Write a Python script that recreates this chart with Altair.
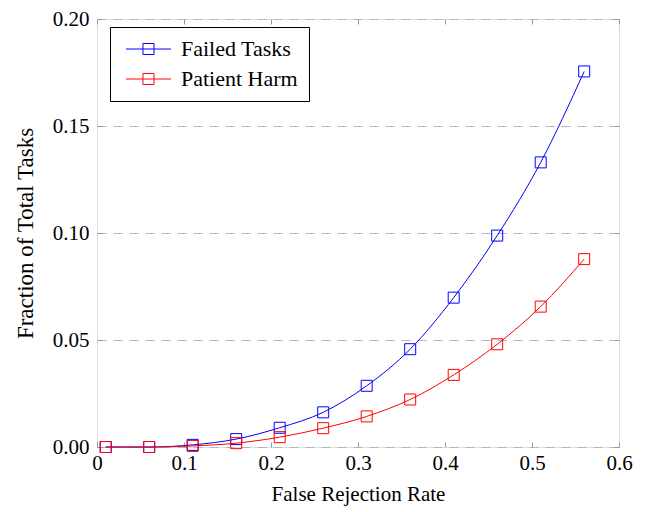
import altair as alt
import pandas as pd

frr = [0.01, 0.06, 0.11, 0.16, 0.21, 0.26, 0.31, 0.36, 0.41, 0.46, 0.51, 0.56]
failed = [0.0, 0.0, 0.001, 0.0037, 0.009, 0.0162, 0.0286, 0.0457, 0.0698, 0.0988, 0.133, 0.1755]
harm = [0.0, 0.0, 0.0005, 0.0018, 0.0046, 0.0088, 0.0143, 0.0222, 0.0337, 0.048, 0.0656, 0.0878]
series = ["Failed Tasks", "Patient Harm"]
colors = ["#0000ff", "#ff0000"]
x_ticks = [0, 0.1, 0.2, 0.3, 0.4, 0.5, 0.6]
y_ticks = [0, 0.05, 0.1, 0.15, 0.2]

df = pd.DataFrame({
    "frr": frr + frr,
    "value": failed + harm,
    "series": [series[0]] * len(frr) + [series[1]] * len(frr),
    "order": [0] * len(frr) + [1] * len(frr),
})

FONT = "Liberation Serif"
xs = alt.Scale(domain=[0, 0.6], nice=False, zero=False)
ys = alt.Scale(domain=[0, 0.2], nice=False, zero=False)

legend = alt.Legend(
    title=None, orient="none", legendX=13, legendY=8,
    symbolType="M-1,0H6.5M1.83,-0.92H3.67V0.92H1.83Z",
    symbolSize=144, symbolStrokeWidth=1, symbolFillColor="transparent",
    labelOffset=38, labelFontSize=22, labelFont=FONT, labelColor="black",
    padding=11, rowPadding=8, strokeColor="black", fillColor="white",
    cornerRadius=0,
)
color = alt.Color("series:N", scale=alt.Scale(domain=series, range=colors), legend=legend)

tick_axis_common = dict(ticks=True, tickSize=5, tickColor="#999999", labels=False,
                        domain=False, grid=False, title=None)

x_main = alt.Axis(values=x_ticks, labelExpr="datum.value == 0 ? '0' : format(datum.value, '.1f')",
                  ticks=False, domain=False, grid=False, title="False Rejection Rate",
                  labelFlush=False,
                  labelFont=FONT, labelFontSize=21, labelColor="black", labelPadding=5,
                  titleFont=FONT, titleFontSize=21, titleFontWeight="normal", titleColor="black",
                  titlePadding=10)
y_main = alt.Axis(values=y_ticks, format=".2f", ticks=False, domain=False, grid=True,
                  labelFlush=False,
                  gridDash=[9, 7], gridColor="#b5b5b5", gridWidth=1,
                  title="Fraction of Total Tasks",
                  labelFont=FONT, labelFontSize=21, labelColor="black", labelPadding=8,
                  titleFont=FONT, titleFontSize=23, titleFontWeight="normal", titleColor="black",
                  titlePadding=15)

lines = alt.Chart(df).mark_line(interpolate="monotone", strokeWidth=1).encode(
    x=alt.X("frr:Q", scale=xs, axis=x_main),
    y=alt.Y("value:Q", scale=ys, axis=y_main),
    color=color,
    detail="series:N",
)

points = alt.Chart(df).mark_point(shape="square", filled=False, size=121, strokeWidth=1, opacity=1).encode(
    x=alt.X("frr:Q", scale=xs, axis=alt.Axis(orient="bottom", offset=-5, values=x_ticks, **tick_axis_common)),
    y=alt.Y("value:Q", scale=ys, axis=alt.Axis(orient="left", offset=-5, values=y_ticks, **tick_axis_common)),
    color=color,
    order="order:Q",
)

ghost = alt.Chart(df).mark_point(opacity=0).encode(
    x=alt.X("frr:Q", scale=xs, axis=alt.Axis(orient="top", offset=-5, values=x_ticks, **tick_axis_common)),
    y=alt.Y("value:Q", scale=ys, axis=alt.Axis(orient="right", offset=-5, values=y_ticks, **tick_axis_common)),
)

chart = alt.layer(lines, points, ghost).resolve_scale(x="shared", y="shared").resolve_axis(
    x="independent", y="independent"
).properties(
    width=522, height=428,
    autosize=alt.AutoSizeParams(type="none"),
    padding={"left": 89, "top": 11, "right": 21, "bottom": 62},
).configure_view(stroke="black", strokeWidth=1).configure(background="white")

chart.save("out.html", embed_options={"renderer": "svg", "actions": False})
